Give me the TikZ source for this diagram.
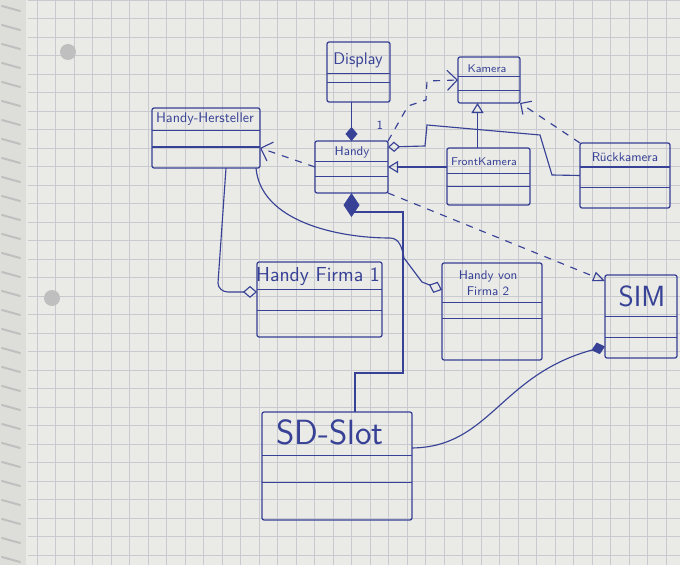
\documentclass[tikz,border=0pt]{standalone}
\usepackage{tikz}
\usetikzlibrary{arrows.meta,positioning,calc}

\definecolor{ink}{RGB}{55,65,150}
\definecolor{paper}{RGB}{234,234,230}
\definecolor{gitterfarbe}{RGB}{200,202,207}

\begin{document}
\begin{tikzpicture}[
    x=0.025cm, y=-0.025cm,
    klasse/.style 2 args={draw=ink, line width=0.9pt, rounded corners=1.5pt, inner sep=0pt, outer sep=0pt,
      path picture={
        \draw[ink, line width=0.8pt]
          ($(path picture bounding box.north west)!#1!(path picture bounding box.south west)$) --
          ($(path picture bounding box.north east)!#1!(path picture bounding box.south east)$)
          ($(path picture bounding box.north west)!#2!(path picture bounding box.south west)$) --
          ($(path picture bounding box.north east)!#2!(path picture bounding box.south east)$);
      }},
    titel/.style={text=ink, font=\sffamily, inner sep=1pt, align=center},
    mult/.style={text=ink, font=\sffamily\small, inner sep=0pt},
    linie/.style={draw=ink, line width=0.8pt},
    komp/.style={linie, {Diamond[fill=ink, length=3.5mm, width=3mm]}-},
    aggr/.style={linie},
    abh/.style={linie, dash pattern=on 5pt off 5pt},
    vererb/.style={linie},
    gitter/.style={gitterfarbe, line width=0.4pt}
]
% paper
\clip (0,0) rectangle (680,565);
\fill[paper] (0,0) rectangle (680,565);
\fill[paper!88!gray] (0,0) rectangle (26,565);
\draw[gitter, step=0.4625cm] (28,0) grid (680,565);
\foreach \i in {0,...,29}
  \draw[gray!50, line width=1.4pt, line cap=round] (2,6+19*\i) -- (20,11+19*\i);
\fill[gray!50] (68,52) circle (0.2cm);
\fill[gray!50] (52,298) circle (0.2cm);

% classes
\node[klasse={.52}{.68}, minimum width=1.575cm, minimum height=1.5cm] (disp) at (358.5,72) {};
\node[klasse={.43}{.72}, minimum width=1.55cm, minimum height=1.15cm] (kam) at (489,80) {};
\node[klasse={.37}{.65}, minimum width=2.7cm, minimum height=1.5cm] (herst) at (206,138) {};
\node[klasse={.40}{.69}, minimum width=1.825cm, minimum height=1.3cm] (handy) at (351.5,167) {};
\node[klasse={.44}{.68}, minimum width=2.075cm, minimum height=1.425cm] (front) at (488.5,176.5) {};
\node[klasse={.37}{.69}, minimum width=2.25cm, minimum height=1.625cm] (rueck) at (625,175.5) {};
\node[klasse={.37}{.65}, minimum width=3.125cm, minimum height=1.875cm] (f1) at (319.5,299.5) {};
\node[klasse={.41}{.57}, minimum width=2.5cm, minimum height=2.425cm] (f2) at (492,311.5) {};
\node[klasse={.50}{.75}, minimum width=1.8cm, minimum height=2.075cm] (sim) at (641,316.5) {};
\node[klasse={.40}{.65}, minimum width=3.75cm, minimum height=2.7cm] (sd) at (337,466) {};

% names
\node[titel, font=\sffamily\large] (disp-t) at (358,60) {Display};
\node[titel, font=\sffamily\footnotesize] (kam-t) at (487,69) {Kamera};
\node[titel, font=\sffamily] (herst-t) at (205,119) {Handy-Hersteller};
\node[titel, font=\sffamily\small] (handy-t) at (352,152) {Handy};
\node[titel, font=\sffamily\footnotesize] (front-t) at (484,162) {FrontKamera};
\node[titel, font=\sffamily\small] (rueck-t) at (625,157) {Rückkamera};
\node[titel, font=\sffamily\Large] (f1-t) at (318,277) {Handy Firma 1};
\node[titel, font=\sffamily\small] (f2-t) at (488,283) {Handy von\\Firma 2};
\node[titel, font=\sffamily\huge] (sim-t) at (642,296) {SIM};
\node[titel, font=\sffamily\Huge] (sd-t) at (330,432) {SD-Slot};
\node[mult] (m1) at (380,125) {1};

% connectors
\draw[komp] (handy.north) -- (handy.north |- disp.south);
\draw[abh, -{Straight Barb[length=2.5mm]}] (handy.west) -- ([yshift=-0.25cm]herst.east);
\draw[abh, -{Straight Barb[length=2.5mm]}] (handy.north east) -- (408,106) -- (426,100) -- (427,81) -- (kam.west);
\draw[abh, -{Straight Barb[length=2mm]}] (rueck.north west) -- (kam.south east);
\draw[aggr, {Diamond[open, length=3mm, width=2.6mm]}-] ([yshift=0.5cm]handy.east) -- (425,146) -- (427,125) -- (540,135) -- (552,175) -- (rueck.west);
\draw[vererb, {Triangle[open, length=2.5mm, width=3mm]}-] (handy.east) -- (handy.east -| front.west);
\draw[vererb, -{Triangle[open, length=2.5mm, width=3mm]}] ([xshift=-0.275cm]front.north) -- ([xshift=-0.275cm]front.north |- kam.south);
\draw[abh, -{Triangle[open, length=3mm, width=2.5mm]}] (handy.south east) -- ([yshift=-0.15cm]sim.north west);
\draw[komp, {Diamond[fill=ink, length=6mm, width=4mm]}-] (handy.south) -- ++(0,19) -| (403,373) -| ([xshift=0.45cm]sd.north);
\draw[aggr, -{Diamond[open, length=3.5mm, width=3mm]}] ([xshift=0.5cm]herst.south) -- (218,283) to[out=-90, in=180] (228,292) -- ([yshift=0.19cm]f1.west);
\draw[aggr, -{Diamond[open, length=3.5mm, width=3mm]}] ([xshift=-0.1cm]herst.south east) to[out=-85, in=180, looseness=0.9] (390,238) to[out=0, in=100] (404,258) -- (422,282) -- ([yshift=0.54cm]f2.west);
\draw[linie, -{Diamond[fill=ink, length=3.5mm, width=3mm]}] ([yshift=0.45cm]sd.east) .. controls (490,447) and (500,375) .. ([yshift=-0.75cm]sim.west);
\end{tikzpicture}
\end{document}
